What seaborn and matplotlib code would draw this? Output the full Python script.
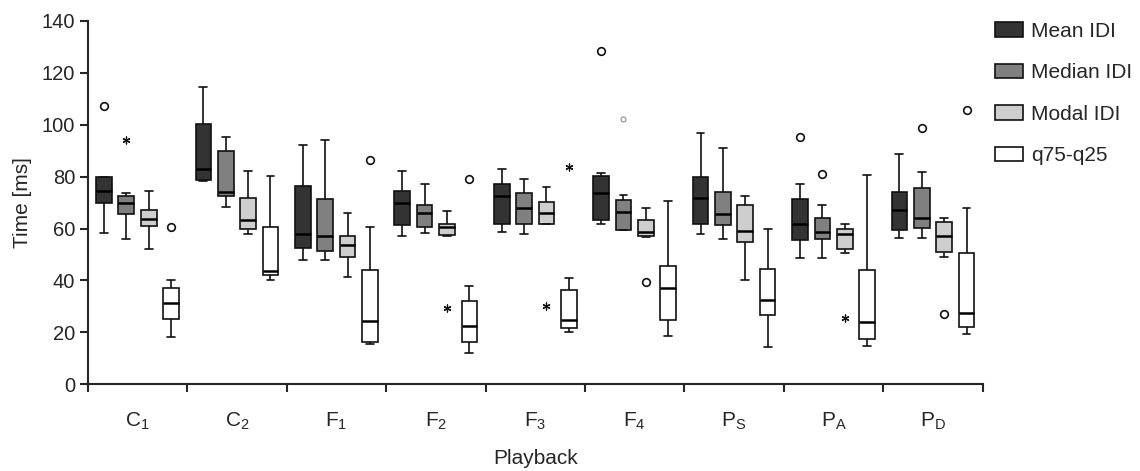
"""
Inter-dot interval box plots per playback condition
"""

import numpy as np
import pandas as pd
import matplotlib
matplotlib.use("Agg")
import matplotlib.pyplot as plt
import seaborn as sns

# categories and labels
playbacks = ["C1", "C2", "F1", "F2", "F3", "F4", "PS", "PA", "PD"]
playback_labels = ["C$_1$", "C$_2$", "F$_1$", "F$_2$", "F$_3$", "F$_4$",
                   "P$_S$", "P$_A$", "P$_D$"]
measures = ["Mean IDI", "Median IDI", "Modal IDI", "q75-q25"]
box_colors = ["#333333", "#808080", "#cecece", "#ffffff"]

# five-number summaries per playback: [low whisker, q1, median, q3, high whisker]
mean_idi = [
    [58.4, 69.8, 74.6, 79.8, 80.0],
    [78.4, 78.8, 83.0, 100.4, 114.5],
    [47.9, 52.4, 57.9, 76.2, 92.3],
    [57.1, 61.3, 69.8, 74.3, 82.0],
    [58.7, 61.8, 72.5, 77.1, 83.0],
    [61.6, 63.3, 73.7, 80.3, 81.5],
    [58.0, 61.6, 71.8, 79.7, 96.8],
    [48.8, 55.6, 61.6, 71.2, 77.2],
    [56.2, 59.6, 67.1, 74.0, 88.7],
]
median_idi = [
    [55.9, 65.6, 69.9, 72.6, 73.6],
    [68.1, 72.7, 74.0, 89.8, 95.2],
    [47.9, 51.5, 57.1, 71.4, 94.2],
    [58.4, 60.7, 66.0, 69.2, 77.1],
    [57.7, 61.8, 68.0, 73.6, 79.0],
    [59.3, 59.6, 66.2, 71.0, 73.0],
    [56.1, 61.3, 65.4, 73.9, 90.9],
    [48.8, 56.1, 58.8, 64.2, 69.2],
    [56.2, 60.2, 64.1, 75.5, 81.6],
]
modal_idi = [
    [52.3, 61.1, 63.7, 67.3, 74.3],
    [57.7, 59.7, 63.1, 71.6, 82.1],
    [41.4, 49.2, 53.7, 57.3, 66.0],
    [57.0, 57.4, 60.7, 61.8, 66.8],
    [61.6, 61.8, 65.9, 70.1, 75.9],
    [56.6, 57.0, 58.6, 63.2, 67.8],
    [40.3, 54.8, 59.2, 69.2, 72.6],
    [50.6, 52.1, 57.9, 59.8, 61.8],
    [48.9, 51.1, 57.1, 62.5, 64.1],
]
q_range = [
    [18.4, 25.2, 31.3, 37.1, 40.2],
    [40.3, 42.1, 43.6, 60.4, 80.2],
    [15.4, 16.3, 24.3, 43.9, 60.4],
    [12.2, 16.3, 22.5, 32.2, 38.0],
    [20.3, 21.5, 24.7, 36.4, 40.9],
    [18.7, 24.7, 36.9, 45.4, 70.4],
    [14.4, 26.6, 32.6, 44.5, 60.0],
    [14.9, 17.4, 24.1, 43.9, 80.7],
    [19.3, 22.1, 27.4, 50.5, 68.0],
]

# outliers (circles)
circle_playback = ["C1", "C1", "F1", "F2", "F4", "F4", "PA", "PA", "PD", "PD", "PD"]
circle_measure = ["Mean IDI", "q75-q25", "q75-q25", "q75-q25", "Mean IDI", "Modal IDI",
                  "Mean IDI", "Median IDI", "Median IDI", "Modal IDI", "q75-q25"]
circle_time = [107.2, 60.4, 86.2, 78.9, 128.2, 39.5, 95.1, 81.1, 98.7, 27.0, 105.5]

# extremes (asterisks)
star_playback = ["C1", "F2", "F3", "F3", "PA"]
star_measure = ["Median IDI", "Modal IDI", "Modal IDI", "q75-q25", "Modal IDI"]
star_time = [94.0, 29.2, 30.0, 83.7, 25.6]

# faint small circle
faint_playback = ["F4"]
faint_measure = ["Median IDI"]
faint_time = [102.3]

BOX_WIDTH = 0.9

sns.set_style("ticks")
plt.rcParams["font.family"] = ["Liberation Sans", "DejaVu Sans"]
plt.rcParams["mathtext.fontset"] = "custom"
plt.rcParams["mathtext.rm"] = "Liberation Sans"
plt.rcParams["mathtext.it"] = "Liberation Sans"
plt.rcParams["mathtext.default"] = "regular"

# long table: five rows per box give exactly the read quartiles
rows = []
for measure, stats in zip(measures, [mean_idi, median_idi, modal_idi, q_range]):
    for pb, vals in zip(playbacks, stats):
        for v in vals:
            rows.append({"playback": pb, "measure": measure, "time": v})
df = pd.DataFrame(rows)

fig = plt.figure(figsize=(11.4, 4.71), dpi=100)
ax = fig.add_axes([0.077, 0.184, 0.785, 0.772])

sns.boxplot(data=df, x="playback", y="time", hue="measure",
            order=playbacks, hue_order=measures,
            palette=dict(zip(measures, box_colors)),
            width=BOX_WIDTH, gap=0.3, whis=np.inf, showfliers=False,
            linecolor="#111111", linewidth=1.2,
            medianprops={"linewidth": 1.8, "color": "black"},
            ax=ax)


def draw_points(playback, measure, time, **kws):
    n_before = len(ax.collections)
    pts = pd.DataFrame({"playback": playback, "measure": measure, "time": time})
    sns.stripplot(data=pts, x="playback", y="time", hue="measure",
                  order=playbacks, hue_order=measures, dodge=True, jitter=False,
                  legend=False, ax=ax, **kws)
    # stripplot dodges with width .8, boxes use BOX_WIDTH
    for coll in ax.collections[n_before:]:
        off = coll.get_offsets()
        if len(off) == 0:
            continue
        off = np.asarray(off, dtype=float)
        base = np.round(off[:, 0])
        off[:, 0] = base + (off[:, 0] - base) * BOX_WIDTH / 0.8
        coll.set_offsets(off)


draw_points(circle_playback, circle_measure, circle_time,
            palette={m: "white" for m in measures}, edgecolor="#111111",
            linewidth=1.2, size=5.5, zorder=4)
draw_points(star_playback, star_measure, star_time,
            palette={m: "#111111" for m in measures}, edgecolor="#111111",
            linewidth=0.9, size=5, marker=(6, 2, 0), zorder=4)
draw_points(faint_playback, faint_measure, faint_time,
            palette={m: "white" for m in measures}, edgecolor="#999999",
            linewidth=0.9, size=3.5, zorder=4)

ax.set_xlim(-0.5, len(playbacks) - 0.5)
ax.set_ylim(0, 140)
ax.set_yticks(np.arange(0, 141, 20))
ax.set_xticks(range(len(playbacks)))
ax.set_xticklabels(playback_labels, fontsize=15)
ax.set_xticks(np.arange(-0.5, len(playbacks), 1), minor=True)
ax.tick_params(axis="x", which="major", length=0, pad=19)
ax.tick_params(axis="x", which="minor", length=6, width=1.5, direction="out")
ax.tick_params(axis="y", length=6, width=1.5, direction="out", labelsize=14.5, pad=3)

for side in ["top", "right"]:
    ax.spines[side].set_visible(False)
for side in ["left", "bottom"]:
    ax.spines[side].set_linewidth(1.5)

ax.set_ylabel("Time [ms]", fontsize=15, labelpad=7)
ax.set_xlabel("Playback", fontsize=15, labelpad=12)

handles, labels = ax.get_legend_handles_labels()
ax.legend(handles, labels, loc="upper left", bbox_to_anchor=(1.004, 1.02),
          frameon=False, fontsize=15, handlelength=1.35, handleheight=0.72,
          handletextpad=0.4, labelspacing=1.08, borderaxespad=0)

fig.savefig("out.png", dpi=100)
plt.close(fig)
